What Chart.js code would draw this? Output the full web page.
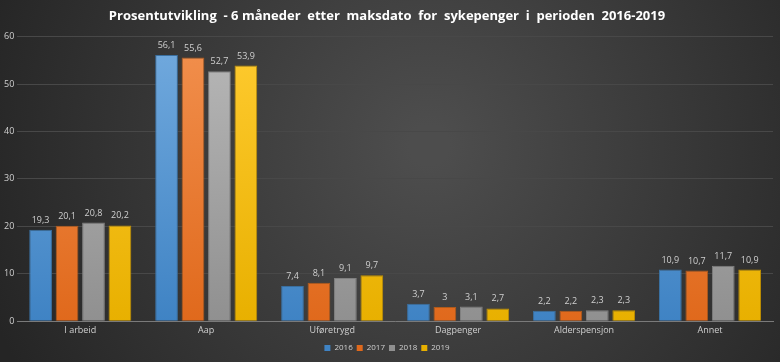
<!DOCTYPE html>
<html><head><meta charset="utf-8">
<script src="https://cdn.jsdelivr.net/npm/chart.js@4"></script>
<style>html,body{margin:0;padding:0;background:#333;}#wrap{width:780px;height:362px;}</style>
</head><body><div id="wrap"><canvas id="c" width="780" height="362"></canvas></div>
<script>
const categories = ["I arbeid", "Aap", "Uføretrygd", "Dagpenger", "Alderspensjon", "Annet"];
const years = ["2016", "2017", "2018", "2019"];
const values2016 = [19.3, 56.1, 7.4, 3.7, 2.2, 10.9];
const values2017 = [20.1, 55.6, 8.1, 3, 2.2, 10.7];
const values2018 = [20.8, 52.7, 9.1, 3.1, 2.3, 11.7];
const values2019 = [20.2, 53.9, 9.7, 2.7, 2.3, 10.9];
const yTicks = [0, 10, 20, 30, 40, 50, 60];
const titleText = "Prosentutvikling  - 6 måneder  etter  maksdato  for  sykepenger  i  perioden  2016-2019";

const baseColors = [["#72aade","#3f83c4"],["#f2904e","#e0691c"],["#b8b8b8","#909090"],["#ffcb30","#e8b000"]];
const borders = ["#3a6f9f","#b05a1a","#808080","#c09000"];
const series = [values2016, values2017, values2018, values2019];
const FONT = '"Open Sans", sans-serif';

function grad(ctx, area, i){
  if(!area) return baseColors[i][0];
  const g = ctx.createLinearGradient(0, area.top, 0, area.bottom);
  g.addColorStop(0, baseColors[i][0]);
  g.addColorStop(1, baseColors[i][1]);
  return g;
}

const bgPlugin = {
  id:'bg',
  beforeDraw(chart){
    const c = chart.ctx, w = chart.width, h = chart.height;
    const g = c.createRadialGradient(w*0.55, h*0.4, 20, w*0.55, h*0.4, w*0.6);
    g.addColorStop(0, '#4d4d4d');
    g.addColorStop(1, '#252525');
    c.save(); c.fillStyle = g; c.fillRect(0,0,w,h); c.restore();
  }
};
const labelPlugin = {
  id:'lbl',
  afterDatasetsDraw(chart){
    const c = chart.ctx;
    c.save();
    c.font = '9px ' + FONT;
    c.fillStyle = '#d0d0d0';
    c.textAlign = 'center';
    c.textBaseline = 'bottom';
    chart.data.datasets.forEach((ds, di) => {
      chart.getDatasetMeta(di).data.forEach((bar, i) => {
        const v = ds.data[i];
        c.fillText(String(v).replace('.', ','), bar.x, bar.y - 5);
      });
    });
    c.restore();
  }
};

new Chart(document.getElementById('c'), {
  type:'bar',
  data:{
    labels: categories,
    datasets: years.map((y, i) => ({
      label: y,
      data: series[i],
      backgroundColor: (ctx) => grad(ctx.chart.ctx, ctx.chart.chartArea, i),
      borderColor: borders[i],
      borderWidth: 1,
      categoryPercentage: 0.84,
      barPercentage: 0.86
    }))
  },
  options:{
    responsive:false,
    animation:false,
    layout:{padding:{left:1, right:7, top:2, bottom:0}},
    plugins:{
      title:{display:true, text:titleText, color:'#ffffff', font:{family:FONT, size:13, weight:'bold'}, padding:{top:6, bottom:13}},
      legend:{position:'bottom', labels:{color:'#d0d0d0', font:{family:FONT, size:8}, boxWidth:6, boxHeight:6, padding:4, generateLabels(chart){
        return chart.data.datasets.map((ds,i)=>({text:ds.label, fillStyle:baseColors[i][1], strokeStyle:baseColors[i][1], lineWidth:0, fontColor:'#d0d0d0', datasetIndex:i}));
      }}},
      tooltip:{enabled:false}
    },
    scales:{
      x:{grid:{display:false, drawTicks:false}, border:{color:'#7a7a7a', width:1}, ticks:{color:'#d0d0d0', font:{family:FONT, size:9}, padding:4}},
      y:{min:0, max:60, afterBuildTicks(ax){ ax.ticks = yTicks.map(v=>({value:v})); }, grid:{color:'#484848', drawTicks:false}, border:{display:false}, ticks:{color:'#d0d0d0', font:{family:FONT, size:9}, padding:3}}
    }
  },
  plugins:[bgPlugin, labelPlugin]
});
</script>
</body></html>
